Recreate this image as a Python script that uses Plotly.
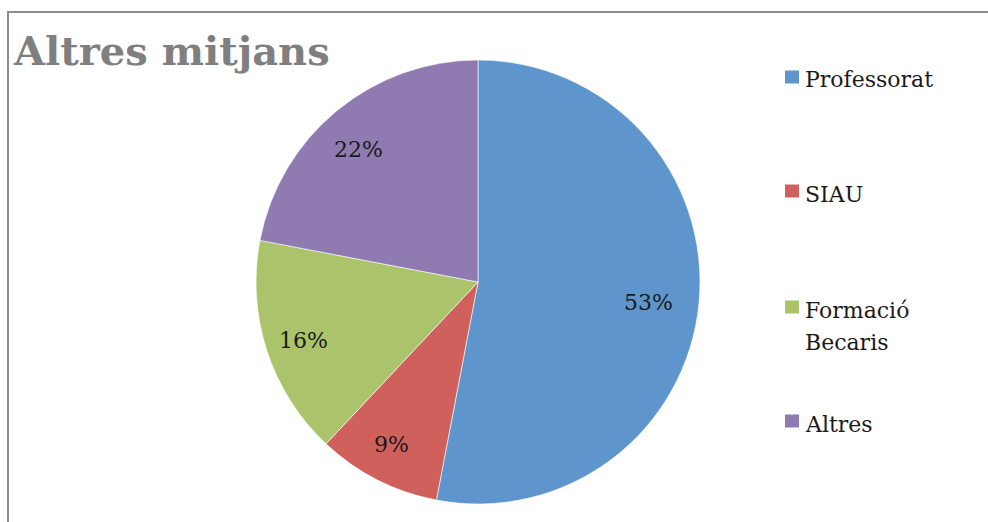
import math
import plotly.graph_objects as go

# Distribució d'altres mitjans
categories = ["Professorat", "SIAU", "Formació Becaris", "Altres"]
values = [53, 9, 16, 22]
colors = ["#5e95cc", "#d0605b", "#abc46c", "#8f7ab2"]

W, H = 988, 522

# pie placement in pixels
CX, CY, R = 478, 282, 222
LABEL_R = 0.8            # fraction of the radius where percentage labels sit
LABEL_DX, LABEL_DY = -6, 4  # small nudge of the label ring


def px_x(x):
    return x / W


def px_y(y):
    return 1 - y / H


fig = go.Figure()

fig.add_trace(go.Pie(
    labels=categories,
    values=values,
    sort=False,
    direction="clockwise",
    rotation=0,
    marker=dict(colors=colors, line=dict(color="rgba(255,255,255,0.6)", width=1)),
    textinfo="none",
    domain=dict(x=[px_x(CX - R), px_x(CX + R)], y=[px_y(CY + R), px_y(CY - R)]),
    showlegend=False,
    hoverinfo="label+percent",
))

shapes = [
    # chart frame
    dict(type="rect", xref="paper", yref="paper",
         x0=px_x(8), x1=px_x(1000), y0=px_y(530), y1=px_y(12),
         line=dict(color="#8c8c8c", width=2), fillcolor="rgba(0,0,0,0)", layer="below"),
]

annotations = [
    dict(text="<b>Altres mitjans</b>", xref="paper", yref="paper",
         x=px_x(11), y=px_y(50), xanchor="left", yanchor="middle",
         showarrow=False,
         font=dict(family="DejaVu Serif", size=40, color="#7f7f7f")),
]

# Percentage labels placed at each slice's mid-angle (clockwise from 12 o'clock)
total = sum(values)
cum = 0
for v in values:
    mid = (cum + v / 2) / total * 2 * math.pi
    cum += v
    lx = CX + LABEL_DX + LABEL_R * R * math.sin(mid)
    ly = CY + LABEL_DY - LABEL_R * R * math.cos(mid)
    annotations.append(dict(text=f"{round(v / total * 100)}%", xref="paper", yref="paper",
                            x=px_x(lx), y=px_y(ly), xanchor="center", yanchor="middle",
                            showarrow=False,
                            font=dict(family="DejaVu Serif", size=22, color="#1a1a1a")))

# Legend drawn as swatches and labels down the right-hand side
legend_centers = [77, 191, 307, 421]
line_gap = 32
for name, color, cy in zip(categories, colors, legend_centers):
    shapes.append(dict(type="rect", xref="paper", yref="paper",
                       x0=px_x(785), x1=px_x(799), y0=px_y(cy + 6.5), y1=px_y(cy - 6.5),
                       line=dict(width=0), fillcolor=color))
    for i, word in enumerate(name.split(" ")):
        annotations.append(dict(text=word, xref="paper", yref="paper",
                                x=px_x(803), y=px_y(cy + 3 + i * line_gap),
                                xanchor="left", yanchor="middle",
                                align="left", showarrow=False,
                                font=dict(family="DejaVu Serif", size=22, color="#1a1a1a")))

fig.update_layout(
    width=W, height=H,
    margin=dict(l=0, r=0, t=0, b=0),
    paper_bgcolor="white",
    plot_bgcolor="white",
    shapes=shapes,
    annotations=annotations,
)

fig.write_html("out.html")
